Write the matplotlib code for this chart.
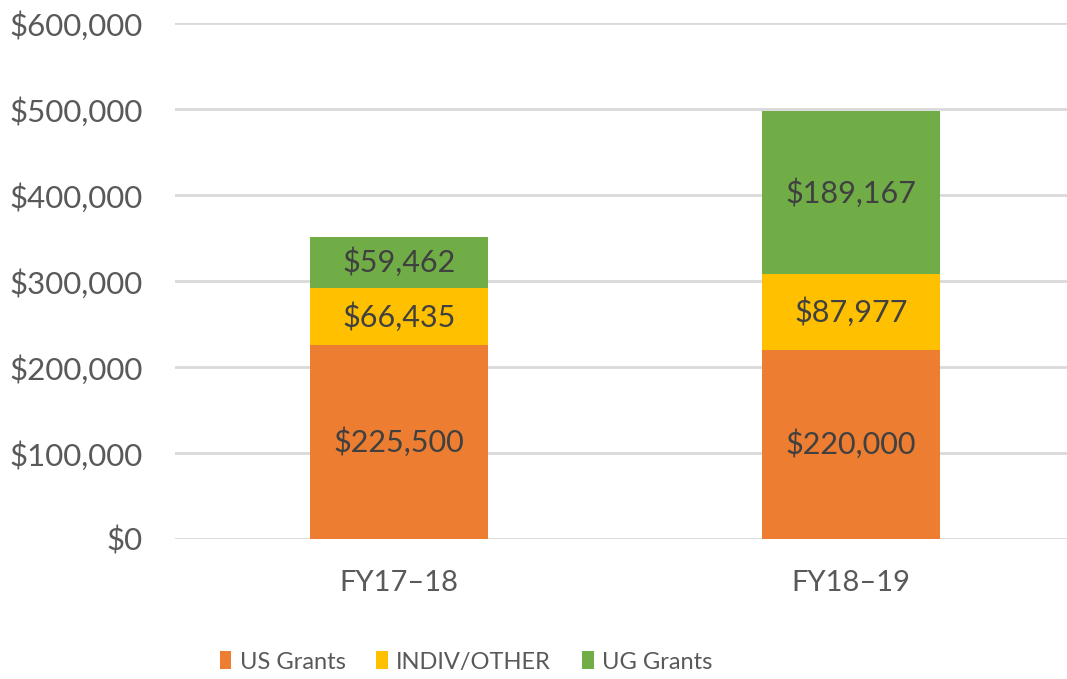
import matplotlib
matplotlib.use("Agg")
import matplotlib.pyplot as plt
import numpy as np

categories = ["FY17\u201318", "FY18\u201319"]
series_names = ["US Grants", "INDIV/OTHER", "UG Grants"]
us_grants = [225500, 220000]
indiv_other = [66435, 87977]
ug_grants = [59462, 189167]
colors = ["#ED7D31", "#FFC000", "#70AD47"]
yticks = [0, 100000, 200000, 300000, 400000, 500000, 600000]

plt.rcParams['font.family'] = ['Lato', 'DejaVu Sans']

fig = plt.figure(figsize=(10.67, 6.79), dpi=100)
ax = fig.add_axes([175/1067, 1-539/679, 1-175/1067, (539-23)/679])

x = np.arange(len(categories))
width = 0.395
bottom = np.zeros(len(categories))
handles = []
for vals, name, col in zip([us_grants, indiv_other, ug_grants], series_names, colors):
    vals = np.array(vals, dtype=float)
    b = ax.bar(x, vals, width, bottom=bottom, color=col, label=name, zorder=3)
    handles.append(b)
    for xi, v, bt in zip(x, vals, bottom):
        ax.text(xi, bt + v/2, f"${v:,.0f}", ha='center', va='center',
                fontsize=22, color="#404040", zorder=4)
    bottom += vals

ax.set_ylim(0, 600000)
ax.set_xlim(-224/452, 1 + (1067-851)/452)
ax.set_yticks(yticks)
ax.set_yticklabels([f"${t:,.0f}" for t in yticks], fontsize=22.5, color="#595959")
ax.set_xticks(x)
ax.set_xticklabels(categories, fontsize=21, color="#595959")
ax.tick_params(axis='both', length=0)
ax.tick_params(axis='y', pad=23)
ax.tick_params(axis='x', pad=22)
ax.grid(axis='y', color="#D9D9D9", linewidth=2.0, zorder=0)
for s in ax.spines.values():
    s.set_visible(False)

fig.legend(handles=handles, labels=series_names, loc='center',
           bbox_to_anchor=(466/1067, 1-662/679), ncol=3, frameon=False,
           fontsize=17, labelcolor="#595959", handlelength=0.5, handleheight=0.8,
           handletextpad=0.35, columnspacing=1.3)

fig.savefig("out.png", dpi=100)
